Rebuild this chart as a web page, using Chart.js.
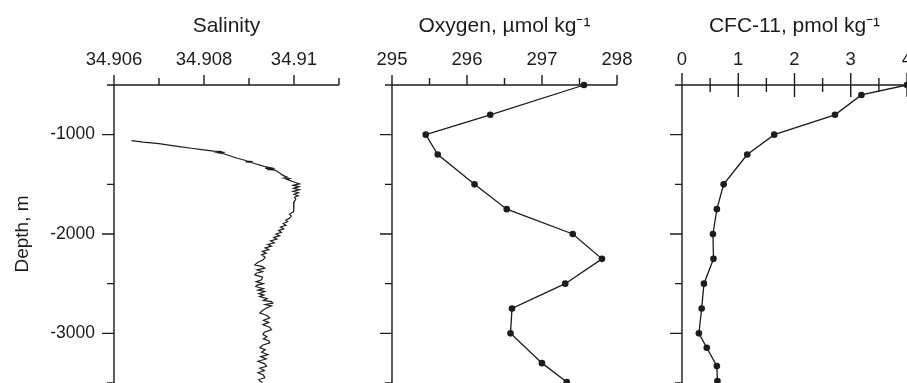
<!DOCTYPE html>
<html><head><meta charset="utf-8">
<script src="https://cdn.jsdelivr.net/npm/chart.js@4.4.1/dist/chart.umd.min.js"></script>
<style>
html,body{margin:0;padding:0;background:#fff;width:907px;height:383px;overflow:hidden;position:relative;}
canvas{position:absolute;top:0;}
</style></head><body>
<canvas id="c1" width="345" height="383" style="left:0px"></canvas>
<canvas id="c2" width="300" height="383" style="left:345px"></canvas>
<canvas id="c3" width="282" height="383" style="left:625px"></canvas>
<script>
// ---------- data ----------
const depthTicks = [-3000, -2000, -1000];
const depthMinor = [-3500, -2500, -1500, -500];

const salTicks = [34.906, 34.908, 34.91];
const salMinor = [34.907, 34.909, 34.911];
const oxyTicks = [295, 296, 297, 298];
const oxyMinor = [295.5, 296.5, 297.5];
const cfcTicks = [0, 1, 2, 3, 4];
const cfcMinor = [0.5, 1.5, 2.5, 3.5];

const salDepth = [-1060,-1075,-1090,-1105,-1120,-1137,-1150,-1165,-1170,-1174,-1178,-1182,-1190,-1205,-1220,-1235,-1250,-1265,-1270,-1274,-1280,-1295,-1311,-1325,-1336,-1340,-1345,-1350,-1356,-1370,-1385,-1400,-1415,-1428,-1436,-1442,-1450,-1460,-1472,-1482,-1495,-1510,-1525,-1540,-1555,-1570,-1585,-1600,-1615,-1630,-1650,-1676,-1700,-1730,-1760,-1776,-1800,-1820,-1842,-1860,-1876,-1895,-1912,-1930,-1948,-1965,-1982,-2000,-2018,-2035,-2052,-2070,-2088,-2105,-2122,-2140,-2158,-2175,-2193,-2210,-2235,-2261,-2285,-2311,-2328,-2344,-2362,-2380,-2395,-2411,-2435,-2461,-2480,-2500,-2515,-2529,-2550,-2565,-2579,-2600,-2615,-2629,-2650,-2668,-2680,-2695,-2710,-2725,-2745,-2770,-2795,-2820,-2846,-2868,-2890,-2913,-2938,-2963,-2988,-3013,-3035,-3055,-3075,-3096,-3120,-3146,-3165,-3190,-3214,-3235,-3258,-3281,-3305,-3331,-3350,-3375,-3397,-3420,-3447,-3465,-3481,-3495];
const salValue = [34.90639,34.90665,34.90700,34.90722,34.90745,34.90772,34.90795,34.90822,34.90840,34.90822,34.90846,34.90828,34.90842,34.90852,34.90862,34.90872,34.90885,34.90896,34.90908,34.90893,34.90905,34.90916,34.90928,34.90938,34.90950,34.90936,34.90956,34.90940,34.90958,34.90963,34.90968,34.90972,34.90978,34.90985,34.90978,34.90990,34.90984,34.90990,34.90997,34.91003,34.91012,34.90998,34.91011,34.90999,34.91012,34.90998,34.91010,34.91000,34.91009,34.91001,34.91004,34.91000,34.91000,34.90999,34.90999,34.90999,34.90990,34.90994,34.90990,34.90982,34.90986,34.90976,34.90982,34.90970,34.90977,34.90966,34.90972,34.90960,34.90968,34.90955,34.90962,34.90948,34.90956,34.90942,34.90950,34.90936,34.90944,34.90930,34.90938,34.90928,34.90936,34.90931,34.90920,34.90913,34.90930,34.90935,34.90918,34.90930,34.90916,34.90913,34.90930,34.90928,34.90916,34.90932,34.90918,34.90915,34.90932,34.90920,34.90935,34.90922,34.90933,34.90924,34.90940,34.90932,34.90950,34.90953,34.90936,34.90950,34.90939,34.90930,34.90924,34.90940,34.90946,34.90932,34.90944,34.90931,34.90946,34.90950,34.90934,34.90931,34.90940,34.90932,34.90944,34.90946,34.90930,34.90924,34.90936,34.90928,34.90942,34.90926,34.90938,34.90920,34.90934,34.90939,34.90924,34.90934,34.90920,34.90932,34.90935,34.90922,34.90924,34.90930];

const oxyDepth = [-500,-800,-1000,-1200,-1500,-1750,-2000,-2250,-2500,-2750,-3000,-3300,-3490];
const oxyValue = [297.56,296.31,295.45,295.61,296.10,296.53,297.41,297.80,297.31,296.60,296.58,297.00,297.33];

const cfcDepth = [-500,-600,-800,-1000,-1200,-1500,-1750,-2000,-2250,-2500,-2750,-3000,-3145,-3330,-3480];
const cfcValue = [4.0,3.19,2.72,1.64,1.16,0.74,0.62,0.55,0.56,0.39,0.35,0.30,0.44,0.62,0.63];

// ---------- styling ----------
const INK = '#1c1c1c';
const FONT = "'Liberation Sans', Arial, Helvetica, sans-serif";

const axesPlugin = {
  id: 'axesDraw',
  beforeDatasetsDraw(chart, args, o) {
    const {ctx, chartArea: a, scales: {x, y}} = chart;
    ctx.save();
    ctx.strokeStyle = INK;
    ctx.lineWidth = 1.4;
    ctx.beginPath();
    ctx.moveTo(a.left, a.top); ctx.lineTo(a.right, a.top);
    ctx.moveTo(a.left, a.top); ctx.lineTo(a.left, a.bottom + 2);
    o.xMajor.forEach(v => { const p = x.getPixelForValue(v); ctx.moveTo(p, a.top - o.xMajUp); ctx.lineTo(p, a.top + o.xMajDown); });
    o.xMinor.forEach(v => { const p = x.getPixelForValue(v); ctx.moveTo(p, a.top - o.xMinUp); ctx.lineTo(p, a.top + o.xMinDown); });
    depthTicks.forEach(v => { const p = y.getPixelForValue(v); ctx.moveTo(a.left - 12, p); ctx.lineTo(a.left, p); });
    depthMinor.forEach(v => { const p = y.getPixelForValue(v); ctx.moveTo(a.left - 7, p); ctx.lineTo(a.left, p); });
    ctx.stroke();
    ctx.restore();
  }
};

function panel(id, cfg) {
  const pts = cfg.vals.map((v, i) => ({x: v, y: cfg.depth[i]}));
  return new Chart(document.getElementById(id), {
    type: 'scatter',
    data: { datasets: [{
      data: pts, showLine: true, borderColor: INK, borderWidth: cfg.lw,
      pointRadius: cfg.pr, pointBackgroundColor: INK, pointBorderWidth: 0,
      pointHoverRadius: cfg.pr, tension: 0, clip: 6
    }]},
    options: {
      responsive: false, animation: false, events: [],
      layout: { autoPadding: false, padding: { left: 0, right: cfg.padR, top: 0, bottom: 0 } },
      plugins: { legend: {display: false}, tooltip: {enabled: false},
        axesDraw: { xMajor: cfg.major, xMinor: cfg.minor, xMajUp: cfg.majUp, xMajDown: cfg.majDown, xMinUp: cfg.minUp, xMinDown: cfg.minDown } },
      scales: {
        x: {
          type: 'linear', position: 'top', min: cfg.min, max: cfg.max,
          grid: {display: false, drawTicks: false}, border: {display: false},
          ticks: { font: {family: FONT, size: 18.5}, color: INK, padding: 14, maxRotation: 0, autoSkip: false, callback: v => String(v) },
          title: { display: true, text: cfg.title, font: {family: FONT, size: 21}, color: INK, padding: {top: 14, bottom: 0} },
          afterBuildTicks: s => { s.ticks = cfg.major.map(v => ({value: v})); },
          afterFit: s => { s.height = 85; s.paddingLeft = 0; s.paddingRight = 0; }
        },
        y: {
          type: 'linear', position: 'left', min: -3500, max: -500,
          grid: {display: false, drawTicks: false}, border: {display: false},
          ticks: { display: cfg.yLabels, font: {family: FONT, size: 17.5}, color: INK, padding: 19, callback: v => String(v) },
          title: { display: cfg.yLabels, text: 'Depth, m', font: {family: FONT, size: 19}, color: INK, padding: {top: 11, bottom: 0} },
          afterBuildTicks: s => { s.ticks = depthTicks.map(v => ({value: v})); },
          afterFit: s => { s.width = cfg.yW; s.paddingTop = 0; s.paddingBottom = 0; }
        }
      }
    },
    plugins: [axesPlugin]
  });
}

panel('c1', { title: 'Salinity', vals: salValue, depth: salDepth, min: 34.906, max: 34.911,
  major: salTicks, minor: salMinor, majUp: 10, majDown: 0, minUp: 7, minDown: 0,
  lw: 1.2, pr: 0, yW: 114, padR: 6, yLabels: true });
panel('c2', { title: 'Oxygen, \u00b5mol kg\u207b\u00b9', vals: oxyValue, depth: oxyDepth, min: 295, max: 298,
  major: oxyTicks, minor: oxyMinor, majUp: 10, majDown: 0, minUp: 7, minDown: 0,
  lw: 1.3, pr: 3.3, yW: 47, padR: 28, yLabels: false });
panel('c3', { title: 'CFC-11, pmol kg\u207b\u00b9', vals: cfcValue, depth: cfcDepth, min: 0, max: 4,
  major: cfcTicks, minor: cfcMinor, majUp: 12, majDown: 12, minUp: 7, minDown: 7,
  lw: 1.3, pr: 3.3, yW: 57, padR: 0, yLabels: false });
</script>
</body></html>
